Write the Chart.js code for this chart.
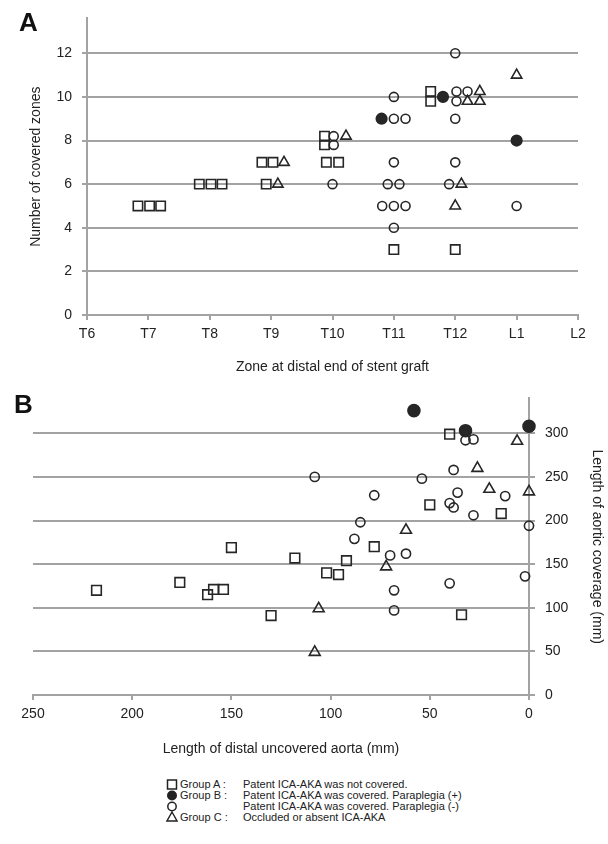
<!DOCTYPE html>
<html>
<head>
<meta charset="utf-8">
<script src="https://cdn.jsdelivr.net/npm/chart.js@4"></script>
<style>
  body { margin: 0; background: #fff; font-family: "Liberation Sans", Arial, sans-serif; }
  #page { position: relative; width: 608px; height: 844px; overflow: hidden; }
  canvas { position: absolute; left: 0; }
  #chartA { top: 0; }
  #chartB { top: 380px; }
  .tag { position: absolute; font-weight: bold; font-size: 26px; line-height: 26px; color: #111; }
  #legend { position: absolute; left: 166px; top: 779px; font-size: 11px; color: #222; }
  #legend .row { display: flex; align-items: center; height: 10.8px; white-space: nowrap; }
  #legend svg { width: 12px; height: 11px; margin-right: 2px; }
  #legend .grp { width: 63px; }
</style>
</head>
<body>
<div id="page">
  <canvas id="chartA" width="608" height="380"></canvas>
  <canvas id="chartB" width="608" height="390"></canvas>
  <div class="tag" style="left:19px;top:9px">A</div>
  <div class="tag" style="left:14px;top:391px">B</div>
  <div id="legend">
    <div class="row"><svg viewBox="0 0 12 11"><rect x="1.5" y="1" width="9" height="9" fill="none" stroke="#222" stroke-width="1.5"/></svg><span class="grp">Group A :</span><span>Patent ICA-AKA was not covered.</span></div>
    <div class="row"><svg viewBox="0 0 12 11"><circle cx="6" cy="5.5" r="5" fill="#222"/></svg><span class="grp">Group B :</span><span>Patent ICA-AKA was covered. Paraplegia (+)</span></div>
    <div class="row"><svg viewBox="0 0 12 11"><circle cx="6" cy="5.5" r="4.2" fill="none" stroke="#222" stroke-width="1.5"/></svg><span class="grp"></span><span>Patent ICA-AKA was covered. Paraplegia (-)</span></div>
    <div class="row"><svg viewBox="0 0 12 11"><polygon points="6,1 11,10 1,10" fill="none" stroke="#222" stroke-width="1.4"/></svg><span class="grp">Group C :</span><span>Occluded or absent ICA-AKA</span></div>
  </div>
</div>
<script>
// ---- panel A: zone of distal end vs number of covered zones
const zoneLabels = ["T6", "T7", "T8", "T9", "T10", "T11", "T12", "L1", "L2"];
const coveredTicks = [0, 2, 4, 6, 8, 10, 12];

// group A (patent ICA-AKA not covered)
const aZone    = ["T7","T7","T7","T8","T8","T8","T9","T9","T9","T10","T10","T10","T10","T11","T12","T12","T12"];
const aJitter  = [-0.17,0.02,0.2,-0.17,0.02,0.2,-0.15,0.03,-0.08,-0.13,-0.13,-0.1,0.1,0,-0.4,-0.4,0];
const aCovered = [5,5,5,6,6,6,7,7,6,8.2,7.8,7,7,3,10.25,9.8,3];

// group B, paraplegia (+)
const bpZone    = ["T11","T12","L1"];
const bpJitter  = [-0.2,-0.2,0];
const bpCovered = [9,10,8];

// group B, paraplegia (-)
const bnZone    = ["T10","T10","T10","T11","T11","T11","T11","T11","T11","T11","T11","T11","T11","T12","T12","T12","T12","T12","T12","T12","L1"];
const bnJitter  = [0.02,0.02,0,0,0,0.19,0,-0.1,0.09,-0.19,0,0.19,0,0,0.02,0.2,0.02,0,0,-0.1,0];
const bnCovered = [8.2,7.8,6,10,9,9,7,6,6,5,5,5,4,12,10.25,10.25,9.8,9,7,6,5];

// group C (occluded or absent)
const cZone    = ["T9","T9","T10","T12","T12","T12","T12","T12","L1"];
const cJitter  = [0.21,0.11,0.22,0.4,0.2,0.4,0.1,0,0];
const cCovered = [7,6,8.2,10.25,9.8,9.8,6,5,11];

// ---- panel B: distal uncovered aorta vs aortic coverage (mm)
const uncoveredTicks = [0, 50, 100, 150, 200, 250];
const coverageTicks = [0, 50, 100, 150, 200, 250, 300];

const aUncovered = [218,176,162,159,154,150,130,118,102,96,92,78,50,40,34,14];
const aLength    = [120,129,115,121,121,169,91,157,140,138,154,170,218,299,92,208];

const bpUncovered = [58,32,0];
const bpLength    = [326,303,308];

const bnUncovered = [108,88,85,78,70,68,68,62,54,40,40,38,38,36,32,28,28,12,2,0];
const bnLength    = [250,179,198,229,160,120,97,162,248,220,128,258,215,232,292,293,206,228,136,194];

const cUncovered = [108,106,72,62,26,20,6,0];
const cLength    = [49,99,147,189,260,236,291,233];

const grey = "#a3a3a3";
const ink = "#262626";

Chart.defaults.font.family = '"Liberation Sans", Arial, sans-serif';
Chart.defaults.font.size = 14;
Chart.defaults.color = "#222";

function zonePoints(zones, jitter, ys) {
  return zones.map((z, i) => ({ x: zoneLabels.indexOf(z) + jitter[i], y: ys[i] }));
}
function points(xs, ys) {
  return xs.map((x, i) => ({ x: x, y: ys[i] }));
}
function series(label, data, style, r, filled) {
  return {
    label: label,
    data: data,
    pointStyle: style,
    pointRadius: r,
    pointHoverRadius: r,
    pointBorderWidth: 1.6,
    pointBorderColor: ink,
    pointBackgroundColor: filled ? ink : "rgba(0,0,0,0)",
    showLine: false,
    clip: false
  };
}

new Chart(document.getElementById("chartA"), {
  type: "scatter",
  data: {
    datasets: [
      series("Group A", zonePoints(aZone, aJitter, aCovered), "rect", 6.6, false),
      series("Group B (+)", zonePoints(bpZone, bpJitter, bpCovered), "circle", 5.3, true),
      series("Group B (-)", zonePoints(bnZone, bnJitter, bnCovered), "circle", 4.5, false),
      series("Group C", zonePoints(cZone, cJitter, cCovered), "triangle", 6, false)
    ]
  },
  options: {
    responsive: false,
    animation: false,
    events: [],
    layout: { padding: { top: 12, right: 30, left: 0, bottom: 0 } },
    plugins: { legend: { display: false }, tooltip: { enabled: false } },
    scales: {
      x: {
        type: "linear",
        min: 0,
        max: zoneLabels.length - 1,
        afterBuildTicks: s => { s.ticks = zoneLabels.map((_, i) => ({ value: i })); },
        afterFit: s => { s.height = 65; },
        ticks: { callback: v => zoneLabels[v], padding: 6, autoSkip: false, maxRotation: 0 },
        grid: { drawOnChartArea: false, color: grey, lineWidth: 2, tickLength: 5 },
        border: { color: grey, width: 2 },
        title: { display: true, text: "Zone at distal end of stent graft", padding: { top: 0, bottom: 4 } }
      },
      y: {
        min: 0,
        max: 13.6,
        afterBuildTicks: s => { s.ticks = coveredTicks.map(v => ({ value: v })); },
        afterFit: s => { s.width = 87; },
        ticks: { padding: 10 },
        grid: { color: grey, lineWidth: 2, tickLength: 5 },
        border: { color: grey, width: 2 },
        title: { display: true, text: "Number of covered zones", padding: { top: 28, bottom: 0 } }
      }
    }
  }
});

new Chart(document.getElementById("chartB"), {
  type: "scatter",
  data: {
    datasets: [
      series("Group A", points(aUncovered, aLength), "rect", 6.8, false),
      series("Group B (+)", points(bpUncovered, bpLength), "circle", 6, true),
      series("Group B (-)", points(bnUncovered, bnLength), "circle", 4.6, false),
      series("Group C", points(cUncovered, cLength), "triangle", 6.3, false)
    ]
  },
  options: {
    responsive: false,
    animation: false,
    events: [],
    layout: { padding: { top: 13, right: 0, left: 33, bottom: 0 } },
    plugins: { legend: { display: false }, tooltip: { enabled: false } },
    scales: {
      x: {
        type: "linear",
        reverse: true,
        min: 0,
        max: 250,
        afterBuildTicks: s => { s.ticks = uncoveredTicks.map(v => ({ value: v })); },
        afterFit: s => { s.height = 75; },
        ticks: { padding: 6, maxRotation: 0 },
        grid: { drawOnChartArea: false, color: grey, lineWidth: 2, tickLength: 5 },
        border: { color: grey, width: 2 },
        title: { display: true, text: "Length of distal uncovered aorta (mm)", padding: { top: 0, bottom: 12 } }
      },
      y: {
        position: "right",
        min: 0,
        max: 340,
        afterBuildTicks: s => { s.ticks = coverageTicks.map(v => ({ value: v })); },
        afterFit: s => { s.width = 79; },
        ticks: { padding: 10 },
        grid: { color: grey, lineWidth: 2, tickLength: 6 },
        border: { color: grey, width: 2 },
        title: { display: true, text: "Length of aortic coverage (mm)", padding: { top: 3, bottom: 0 } }
      }
    }
  }
});
</script>
</body>
</html>
